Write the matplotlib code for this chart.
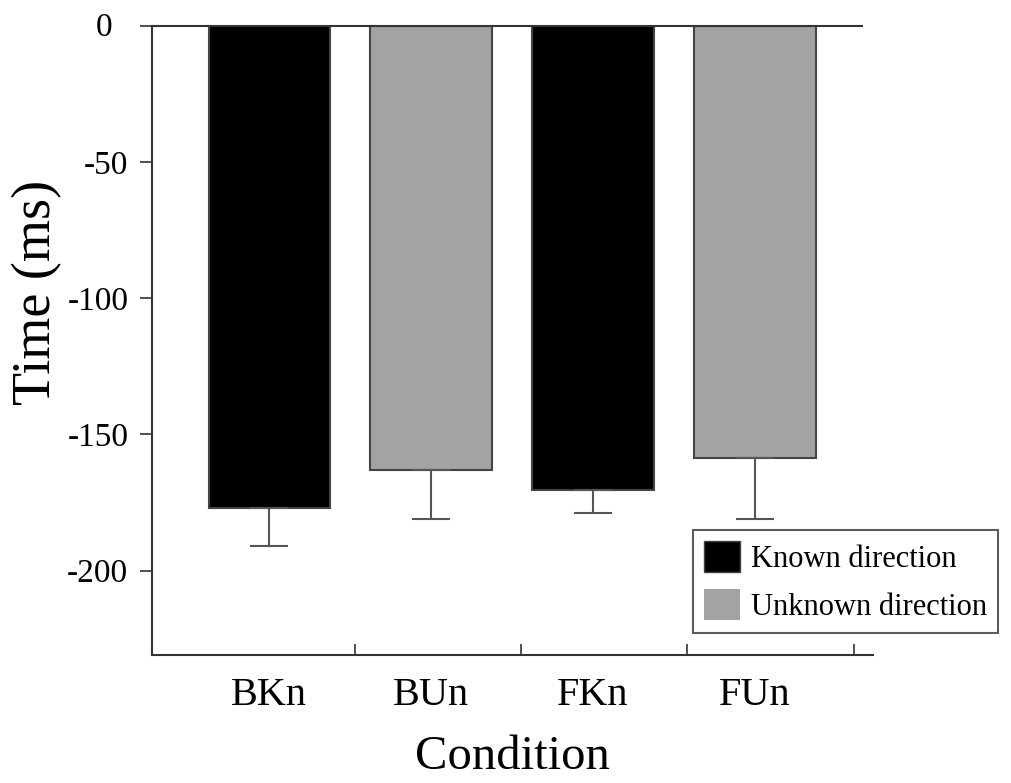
import matplotlib
matplotlib.use('Agg')
import matplotlib.pyplot as plt
import matplotlib.transforms as mtransforms
from matplotlib.patches import Patch

# Data
conditions = ['BKn', 'BUn', 'FKn', 'FUn']
means = [-177, -163, -170.5, -158.5]
errors = [14, 18, 8.5, 22.5]
groups = ['Known', 'Unknown', 'Known', 'Unknown']
legend_labels = ['Known direction', 'Unknown direction']
yticks = [0, -50, -100, -150, -200]

colors = {'Known': '#000000', 'Unknown': '#a3a3a3'}
edge = '#444444'

plt.rcParams['font.family'] = ['Liberation Serif', 'DejaVu Serif']

fig = plt.figure(figsize=(10.11, 7.83), dpi=100)
ax = fig.add_axes([0.1503, 0.1635, 0.7132, 0.8033])

x = list(range(len(conditions)))
bar_colors = [colors[g] for g in groups]
ax.bar(x, means, width=0.75, color=bar_colors, edgecolor=edge, linewidth=1.5, zorder=2)
ax.errorbar(x, means, yerr=[errors, [0] * len(errors)], fmt='none', ecolor='#555555',
            elinewidth=1.5, capsize=14, capthick=1.5, zorder=3)

ax.set_xlim(-0.725, 3.73)
ax.set_ylim(-231, 0)

# spines
for side in ['top', 'right']:
    ax.spines[side].set_visible(False)
for side in ['left', 'bottom']:
    ax.spines[side].set_color('#333333')
    ax.spines[side].set_linewidth(1.5)
ax.axhline(0, xmin=0, xmax=0.985, color='#333333', linewidth=1.5, zorder=4, clip_on=False)

# y ticks
ax.set_yticks(yticks)
ax.set_yticklabels([str(v) for v in yticks])
ax.tick_params(axis='y', direction='out', length=9, width=1.2, color='#333333',
               labelsize=24, pad=8)
# the "0" label sits a bit left and high in the original
zero_lbl = ax.get_yticklabels()[0]
zero_lbl.set_transform(zero_lbl.get_transform() +
                       mtransforms.ScaledTranslation(-16 / 100, 2 / 100, fig.dpi_scale_trans))

# x: separator ticks, category labels as minor ticks
ax.set_xticks([0.53, 1.555, 2.58, 3.61])
ax.set_xticklabels([])
ax.tick_params(axis='x', which='major', direction='in', length=8, width=1.2, color='#333333')
ax.set_xticks(x, minor=True)
ax.set_xticklabels(conditions, minor=True)
ax.tick_params(axis='x', which='minor', length=0, labelsize=29, pad=16)

ax.set_ylabel('Time (ms)', fontsize=39)
ax.yaxis.set_label_coords(-0.125, 0.577)
ax.set_xlabel('Condition', fontsize=35, labelpad=15)

handles = [Patch(facecolor=colors['Known'], edgecolor=edge, linewidth=1),
           Patch(facecolor=colors['Unknown'], edgecolor='none')]
leg = fig.legend(handles, legend_labels, loc='upper left',
                 bbox_to_anchor=(693 / 1011, 1 - 530 / 783), fontsize=22,
                 frameon=True, fancybox=False, handlelength=1.2, handleheight=1.2,
                 handletextpad=0.35, labelspacing=0.5, borderpad=0.35, borderaxespad=0)
leg.get_frame().set_edgecolor('#333333')
leg.get_frame().set_linewidth(1.5)

fig.savefig('out.png', dpi=100)
